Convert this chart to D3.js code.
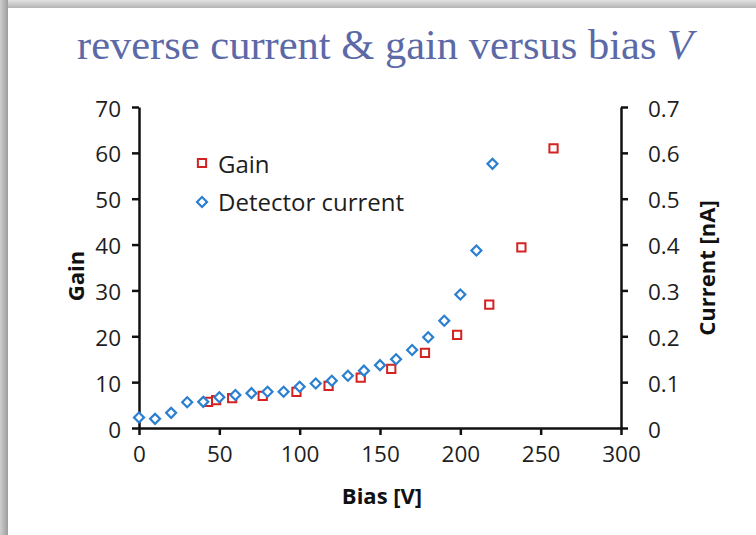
<!DOCTYPE html>
<html>
<head>
<meta charset="utf-8">
<script src="https://cdn.jsdelivr.net/npm/d3@7"></script>
<style>
  body { margin: 0; background: #fff; }
  svg { display: block; }
  .tick text { font-family: "Open Sans", sans-serif; font-size: 22.5px; fill: #1e1e1e; }
</style>
</head>
<body>
<div id="graf"></div>
<script>
// Datos
const biasCurrent = [0, 10, 20, 30, 40, 50, 60, 70, 80, 90, 100, 110, 120, 130, 140, 150, 160, 170, 180, 190, 200, 210, 220]
const current = [0.023, 0.02, 0.033, 0.056, 0.057, 0.067, 0.072, 0.076, 0.079, 0.079, 0.09, 0.097, 0.103, 0.114, 0.125, 0.137, 0.15, 0.17, 0.198, 0.234, 0.291, 0.387, 0.576]
const biasGain = [43, 48, 58, 77, 98, 118, 138, 157, 178, 198, 218, 238, 258]
const gain = [5.7, 6.1, 6.5, 7.0, 7.9, 9.2, 11.0, 12.9, 16.4, 20.3, 26.9, 39.4, 61.0]
const xTicks = [0, 50, 100, 150, 200, 250, 300]
const gainTicks = [0, 10, 20, 30, 40, 50, 60, 70]
const currentTicks = [0, 0.1, 0.2, 0.3, 0.4, 0.5, 0.6, 0.7]

const W = 756, H = 535
const margins = { top: 107, right: 135, bottom: 107, left: 139 }
const ancho = W - margins.left - margins.right
const alto = H - margins.top - margins.bottom

const svg = d3.select("#graf").append("svg").attr("width", W).attr("height", H)

// marco tipo diapositiva
const defs = svg.append("defs")
const gl = defs.append("linearGradient").attr("id", "gl")
gl.append("stop").attr("offset", "0%").attr("stop-color", "#cfcfcf")
gl.append("stop").attr("offset", "100%").attr("stop-color", "#9c9c9c")
const gt = defs.append("linearGradient").attr("id", "gt").attr("x1", 0).attr("y1", 0).attr("x2", 0).attr("y2", 1)
gt.append("stop").attr("offset", "0%").attr("stop-color", "#e2e2e2")
gt.append("stop").attr("offset", "100%").attr("stop-color", "#b4b4b4")
svg.append("rect").attr("width", W).attr("height", 8).attr("fill", "url(#gt)")
svg.append("rect").attr("width", 8).attr("height", H).attr("fill", "url(#gl)")
svg.append("rect").attr("x", 8).attr("y", 8).attr("width", W - 8).attr("height", H - 8).attr("fill", "#fff")

// titulo
const title = svg.append("text")
  .attr("x", 385).attr("y", 59)
  .attr("text-anchor", "middle")
  .attr("font-family", "'Liberation Serif', serif")
  .attr("font-size", 42.5)
  .attr("fill", "#5b69a7")
title.append("tspan").text("reverse current & gain versus bias ")
title.append("tspan").attr("font-style", "italic").text("V")

const g = svg.append("g").attr("transform", `translate(${margins.left}, ${margins.top})`)

// Escaladores
const x = d3.scaleLinear().domain([0, 300]).range([0, ancho])
const yG = d3.scaleLinear().domain([0, 70]).range([alto, 0])
const yC = d3.scaleLinear().domain([0, 0.7]).range([alto, 0])

// Ejes
const styleAxis = (sel) => {
  sel.select(".domain").attr("stroke", "#111").attr("stroke-width", 2.5)
  sel.selectAll(".tick line").attr("stroke", "#111").attr("stroke-width", 2.5)
}
g.append("g").attr("transform", `translate(0, ${alto})`)
  .call(d3.axisBottom(x).tickValues(xTicks).tickSize(7).tickSizeOuter(0).tickPadding(11))
  .call(styleAxis)
g.append("g")
  .call(d3.axisLeft(yG).tickValues(gainTicks).tickSize(7).tickSizeOuter(0).tickPadding(11))
  .call(styleAxis)
  .selectAll(".tick text").attr("dy", "0.4em")
g.append("g").attr("transform", `translate(${ancho}, 0)`)
  .call(d3.axisRight(yC).tickValues(currentTicks).tickFormat(d3.format("")).tickSize(7).tickSizeOuter(0).tickPadding(20))
  .call(styleAxis)
  .selectAll(".tick text").attr("dy", "0.4em")

// titulos de ejes
const axisFont = (t) => t.attr("font-family", "'Open Sans', sans-serif").attr("font-weight", "bold")
  .attr("font-size", 22).attr("fill", "#111").attr("text-anchor", "middle")
svg.append("text").attr("x", 382).attr("y", 504).text("Bias [V]").call(axisFont)
svg.append("text").attr("transform", "translate(84, 276) rotate(-90)").text("Gain").call(axisFont)
svg.append("text").attr("transform", "translate(715, 268) rotate(-90)").text("Current [nA]").call(axisFont)

// marcadores
const square = d3.symbol().type(d3.symbolSquare).size(68)
const diamond = d3.symbol().type(d3.symbolSquare).size(50)

g.selectAll(".gain")
  .data(biasGain.map((b, i) => [b, gain[i]]))
  .join("path")
  .attr("class", "gain")
  .attr("d", square)
  .attr("transform", (d) => `translate(${x(d[0])}, ${yG(d[1])})`)
  .attr("fill", "#fff").attr("stroke", "#d42222").attr("stroke-width", 2)

g.selectAll(".cur")
  .data(biasCurrent.map((b, i) => [b, current[i]]))
  .join("path")
  .attr("class", "cur")
  .attr("d", diamond)
  .attr("transform", (d) => `translate(${x(d[0])}, ${yC(d[1])}) rotate(45)`)
  .attr("fill", "#fff").attr("stroke", "#2a7fd0").attr("stroke-width", 2.2)

// leyenda
const leg = svg.append("g")
leg.append("path").attr("d", square).attr("transform", "translate(202, 163)")
  .attr("fill", "#fff").attr("stroke", "#d42222").attr("stroke-width", 2)
leg.append("path").attr("d", diamond).attr("transform", "translate(202, 202) rotate(45)")
  .attr("fill", "#fff").attr("stroke", "#2a7fd0").attr("stroke-width", 2.2)
leg.selectAll("text").data(["Gain", "Detector current"]).join("text")
  .attr("x", 218).attr("y", (d, i) => 173 + i * 38)
  .attr("font-family", "'Open Sans', sans-serif").attr("font-size", 24).attr("fill", "#1e1e1e")
  .text((d) => d)
</script>
</body>
</html>
